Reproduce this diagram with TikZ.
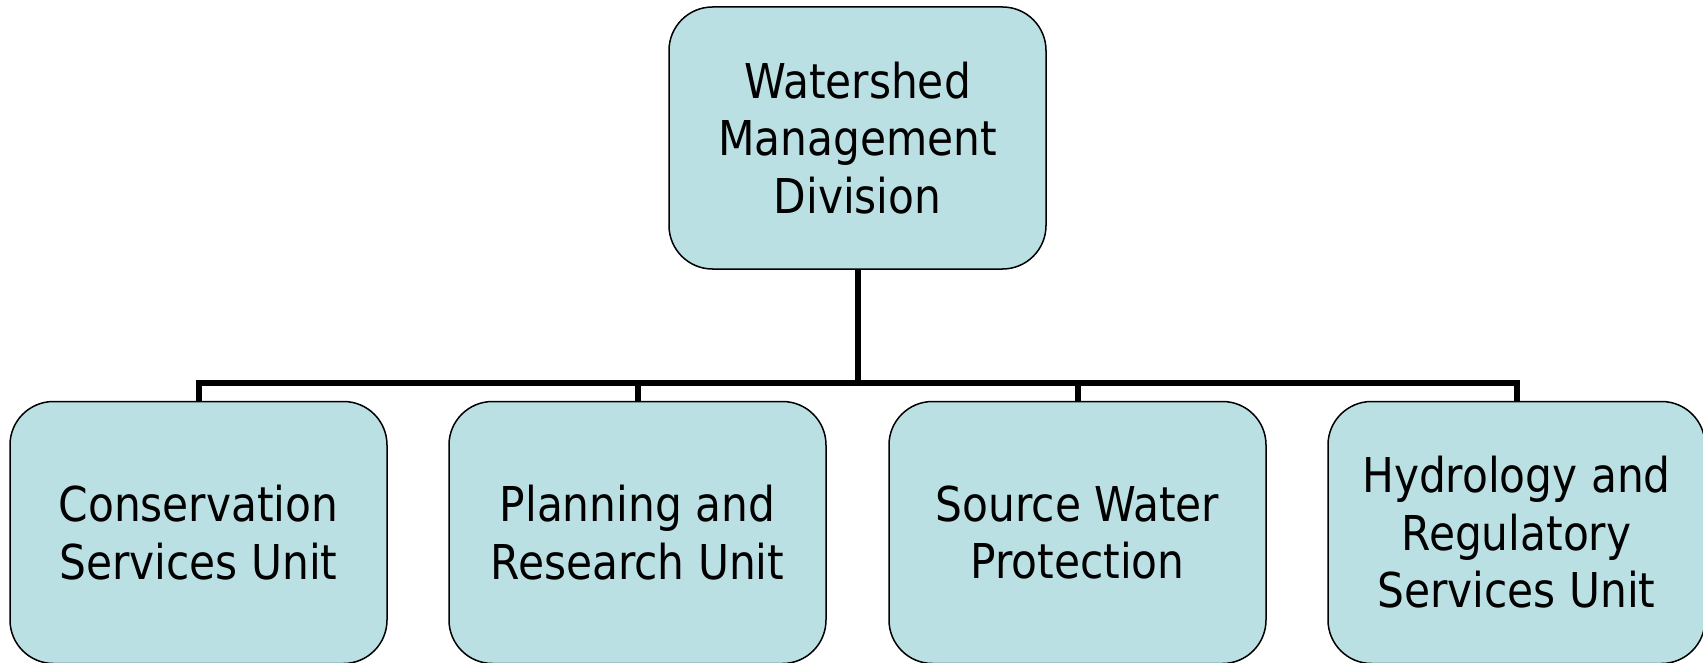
\documentclass[tikz,border=0pt]{standalone}
\usepackage{fontspec}
\setmainfont[FakeStretch=0.98]{DejaVu Sans Condensed}
\definecolor{boxfill}{RGB}{187,224,227}
\begin{document}
\begin{tikzpicture}[x=1pt,y=-1pt,
  unitbox/.style={draw=black, line width=1.5pt, fill=boxfill, rounded corners=43.5pt,
    minimum width=377pt, minimum height=262pt, inner sep=0pt, align=center,
    font=\fontsize{48}{57.6}\selectfont},
  conn/.style={draw=black, line width=6pt}]
\useasboundingbox (0,0) rectangle (1703,663);
\node[unitbox] (top) at (857.5,138) {Watershed\\Management\\Division};
\node[unitbox] (c1) at (198.5,532.5) {Conservation\\Services Unit};
\node[unitbox] (c2) at (637.5,532.5) {Planning and\\Research Unit};
\node[unitbox] (c3) at (1077.5,532.5) {Source Water\\Protection};
\node[unitbox] (c4) at (1516.5,532.5) {Hydrology and\\Regulatory\\Services Unit};
\coordinate (bus) at (0,383);
\draw[conn] (top.south) -- (top.south |- bus);
\draw[conn] (c1.north) -- (c1.north |- bus) -- (c4.north |- bus) -- (c4.north);
\draw[conn] (c2.north) -- (c2.north |- bus);
\draw[conn] (c3.north) -- (c3.north |- bus);
\end{tikzpicture}
\end{document}
